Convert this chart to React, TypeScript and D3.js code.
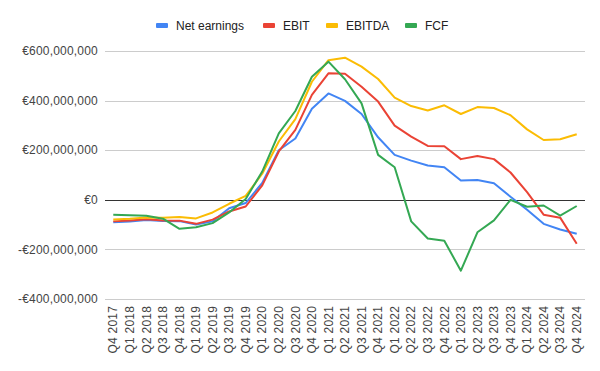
import React, { useRef, useEffect } from 'react'
import * as d3 from 'd3'

const QUARTERS = [
  'Q4 2017', 'Q1 2018', 'Q2 2018', 'Q3 2018', 'Q4 2018', 'Q1 2019', 'Q2 2019', 'Q3 2019',
  'Q4 2019', 'Q1 2020', 'Q2 2020', 'Q3 2020', 'Q4 2020', 'Q1 2021', 'Q2 2021', 'Q3 2021',
  'Q4 2021', 'Q1 2022', 'Q2 2022', 'Q3 2022', 'Q4 2022', 'Q1 2023', 'Q2 2023', 'Q3 2023',
  'Q4 2023', 'Q1 2024', 'Q2 2024', 'Q3 2024', 'Q4 2024',
]

// values in millions of euro
const NET_EARNINGS = [
  -91, -88, -81, -85, -86, -100, -87, -34, -13, 68, 200, 247, 367, 429, 399, 346,
  252, 181, 158, 138, 131, 78, 80, 67, 12, -40, -97, -120, -137,
]
const EBIT = [
  -87, -83, -78, -83, -84, -97, -80, -47, -27, 58, 195, 282, 423, 510, 508, 456,
  396, 299, 255, 217, 216, 164, 177, 164, 110, 31, -60, -72, -177,
]
const EBITDA = [
  -79, -76, -71, -72, -69, -75, -51, -16, 16, 105, 235, 325, 476, 563, 573, 537,
  487, 412, 378, 360, 381, 346, 374, 370, 341, 284, 241, 244, 264,
]
const FCF = [
  -60, -62, -64, -76, -117, -111, -94, -51, 3, 114, 268, 358, 496, 557, 486, 389,
  181, 131, -87, -156, -165, -286, -131, -83, 0, -28, -23, -64, -25,
]

const SERIES = [
  { name: 'Net earnings', values: NET_EARNINGS, color: '#4285F4' },
  { name: 'EBIT', values: EBIT, color: '#EA4335' },
  { name: 'EBITDA', values: EBITDA, color: '#FBBC04' },
  { name: 'FCF', values: FCF, color: '#34A853' },
]

const Y_TICKS = [-400, -200, 0, 200, 400, 600]

const FONT = 'Arial, "Liberation Sans", sans-serif'

export default function App() {
  const svgRef = useRef<SVGSVGElement>(null)

  useEffect(() => {
    const svg = d3.select(svgRef.current)
    svg.selectAll('*').remove()

    const width = 600
    const height = 371
    const margin = { top: 51, right: 15, bottom: 72, left: 105 }

    const x = d3.scaleBand().domain(QUARTERS).range([margin.left, width - margin.right])
    const y = d3.scaleLinear().domain([-400, 600]).range([height - margin.bottom, margin.top])

    svg.attr('width', width).attr('height', height)

    // gridlines
    svg.append('g')
      .selectAll('line')
      .data(Y_TICKS)
      .join('line')
      .attr('x1', margin.left)
      .attr('x2', width - margin.right)
      .attr('y1', (d) => Math.round(y(d)) + 0.5)
      .attr('y2', (d) => Math.round(y(d)) + 0.5)
      .attr('stroke', (d) => (d === 0 ? '#333333' : '#cccccc'))
      .attr('stroke-width', 1)

    // y labels
    const fmt = d3.format(',')
    svg.append('g')
      .selectAll('text')
      .data(Y_TICKS)
      .join('text')
      .attr('x', margin.left - 7)
      .attr('y', (d) => y(d))
      .attr('dy', '0.35em')
      .attr('text-anchor', 'end')
      .attr('font-family', FONT)
      .attr('font-size', 12)
      .attr('letter-spacing', 0.2)
      .attr('fill', '#444444')
      .text((d) => (d < 0 ? '-€' : '€') + fmt(Math.abs(d) * 1e6))

    // x labels, rotated
    svg.append('g')
      .selectAll('text')
      .data(QUARTERS)
      .join('text')
      .attr('transform', (d) => `translate(${x(d)! + x.bandwidth() / 2},${height - margin.bottom + 7}) rotate(-90)`)
      .attr('dy', '0.35em')
      .attr('text-anchor', 'end')
      .attr('font-family', FONT)
      .attr('font-size', 12)
      .attr('letter-spacing', 0.2)
      .attr('fill', '#444444')
      .text((d) => d)

    const line = d3.line<number>()
      .x((_, i) => x(QUARTERS[i])! + x.bandwidth() / 2)
      .y((d) => y(d))

    SERIES.forEach((s) => {
      svg.append('path')
        .datum(s.values)
        .attr('d', line)
        .attr('fill', 'none')
        .attr('stroke', s.color)
        .attr('stroke-width', 2)
        .attr('stroke-linejoin', 'round')
    })

    // legend
    const legendX = [156, 263, 326, 405]
    const legend = svg.append('g')
    SERIES.forEach((s, i) => {
      legend.append('rect')
        .attr('x', legendX[i])
        .attr('y', 23)
        .attr('width', 12)
        .attr('height', 5)
        .attr('rx', 1)
        .attr('fill', s.color)
      legend.append('text')
        .attr('x', legendX[i] + 20)
        .attr('y', 25.5)
        .attr('dy', '0.35em')
        .attr('font-family', FONT)
        .attr('font-size', 12)
        .attr('fill', '#222222')
        .text(s.name)
    })
  }, [])

  return (
    <svg ref={svgRef} style={{ position: 'absolute', left: 0, top: 0, background: '#ffffff' }} />
  )
}
